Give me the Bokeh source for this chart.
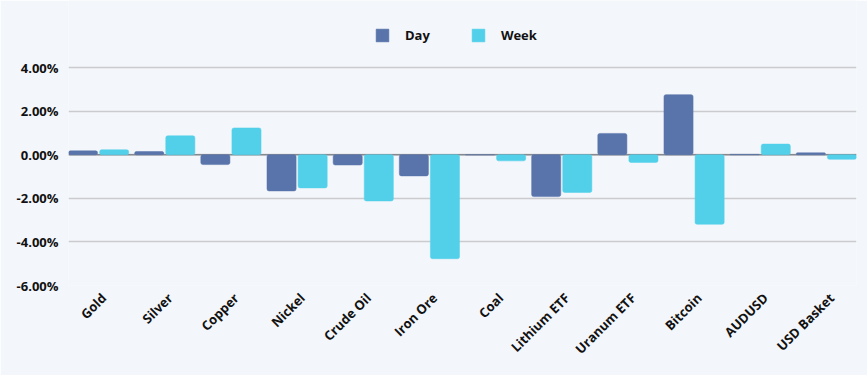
from bokeh.plotting import figure
from bokeh.models import (ColumnDataSource, Range1d, FixedTicker, PrintfTickFormatter,
                          Span, Legend, LegendItem)
from bokeh.transform import dodge
from bokeh.embed import file_html
from bokeh.resources import INLINE
import math

categories = ["Gold", "Silver", "Copper", "Nickel", "Crude Oil", "Iron Ore", "Coal",
              "Lithium ETF", "Uranum ETF", "Bitcoin", "AUDUSD", "USD Basket"]
day = [0.18, 0.15, -0.45, -1.66, -0.47, -0.97, 0.0, -1.92, 0.98, 2.76, 0.02, 0.09]
week = [0.23, 0.87, 1.23, -1.52, -2.12, -4.77, -0.28, -1.73, -0.35, -3.19, 0.49, -0.21]
y_ticks = [-6, -4, -2, 0, 2, 4]

DAY_COLOR = "#5874ab"
WEEK_COLOR = "#52d0ea"
FONT = "Open Sans"
BG = "#f3f6fa"

src = ColumnDataSource(dict(idx=list(range(len(categories))), cat=categories, day=day, week=week))

# frame spans from the top edge down to -6%; headroom above 4% holds the legend
p = figure(width=867, height=375, output_backend="svg", toolbar_location=None,
           x_range=Range1d(-0.455, len(categories) - 1 + 0.455),
           y_range=Range1d(-6, 7.08),
           min_border_left=68, min_border_right=11, min_border_top=0, min_border_bottom=90)

p.background_fill_color = BG
p.border_fill_color = BG
p.outline_line_color = None

r_day = p.vbar(x=dodge("idx", -0.235), top="day", bottom=0, width=0.44, source=src,
               fill_color=DAY_COLOR, line_color=DAY_COLOR, line_width=0.5, border_radius=2)
r_week = p.vbar(x=dodge("idx", 0.235), top="week", bottom=0, width=0.44, source=src,
                fill_color=WEEK_COLOR, line_color=WEEK_COLOR, line_width=0.5, border_radius=2)

p.add_layout(Span(location=0, dimension="width", line_color="#858a90", line_width=1.5,
                  level="underlay"))

# axes (label anchors nudged slightly right of the category centre, as in the reference)
label_pos = [round(i + 0.08, 2) for i in range(len(categories))]
p.xaxis.ticker = FixedTicker(ticks=label_pos)
p.xaxis.major_label_overrides = {t: c for t, c in zip(label_pos, categories)}
p.xaxis.major_label_orientation = math.pi / 4
p.xaxis.axis_line_color = None
p.xaxis.major_tick_line_color = None
p.xaxis.minor_tick_line_color = None
p.xaxis.major_tick_in = 0
p.xaxis.major_tick_out = 0
p.xaxis.major_label_text_font = FONT
p.xaxis.major_label_text_font_style = "bold"
p.xaxis.major_label_text_font_size = "13px"
p.xaxis.major_label_text_color = "#111111"
p.xaxis.major_label_standoff = 10

p.yaxis.ticker = FixedTicker(ticks=y_ticks)
p.yaxis.formatter = PrintfTickFormatter(format="%.2f%%")
p.yaxis.axis_line_color = None
p.yaxis.major_tick_line_color = None
p.yaxis.minor_tick_line_color = None
p.yaxis.major_tick_in = 0
p.yaxis.major_tick_out = 0
p.yaxis.major_label_text_font = FONT
p.yaxis.major_label_text_font_style = "bold"
p.yaxis.major_label_text_font_size = "13px"
p.yaxis.major_label_text_color = "#111111"
p.yaxis.major_label_standoff = 10

p.xgrid.grid_line_color = None
p.ygrid.ticker = FixedTicker(ticks=y_ticks)
p.ygrid.grid_line_color = "#c9cbce"
p.ygrid.grid_line_width = 1.3

legend = Legend(items=[LegendItem(label="Day", renderers=[r_day]),
                       LegendItem(label="Week", renderers=[r_week])],
                orientation="horizontal", location=(306, 241),
                glyph_width=16, glyph_height=16, label_standoff=15, spacing=40,
                padding=0, margin=0, background_fill_alpha=0, border_line_color=None,
                label_text_font=FONT, label_text_font_style="bold",
                label_text_font_size="13px", label_text_color="#111111")
p.add_layout(legend, "center")

open("out.html", "w").write(file_html(p, INLINE))
